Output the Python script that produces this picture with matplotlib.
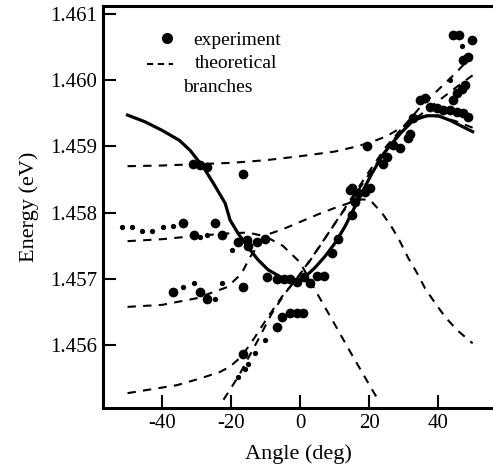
import matplotlib
matplotlib.use("Agg")
import matplotlib.pyplot as plt

plt.rcParams['font.family'] = ['Liberation Serif', 'DejaVu Serif']
plt.rcParams['axes.unicode_minus'] = False

# fitted experimental trend (solid line)
fit_angle = [-50, -45, -40, -35, -31.9, -28.1, -25.2, -21.7, -20.3, -18, -15.1, -12.2, -9.3, -5.3, -1.4,
             1.4, 4.3, 7.2, 10.1, 13, 15.9, 18.8, 20.8, 24.2, 29, 32.8, 36.7, 40, 43.5, 47.3, 50]
fit_energy = [1.45947, 1.45937, 1.45924, 1.45909, 1.45894, 1.45869, 1.45845, 1.45814, 1.45789, 1.45769,
              1.45748, 1.45729, 1.45714, 1.45702, 1.45696, 1.45703, 1.45717, 1.45734, 1.45754, 1.45779,
              1.45809, 1.45839, 1.45859, 1.45889, 1.45919, 1.45939, 1.45946, 1.45946, 1.45939, 1.45929,
              1.45922]

# theoretical branches (dashed)
a_angle = [-50, -40, -30, -20, -10, 0, 10, 15, 20, 25, 30, 35, 40, 45, 50]
a_energy = [1.45870, 1.45871, 1.45873, 1.45875, 1.45879, 1.45885, 1.45892, 1.45898, 1.45905, 1.45915,
            1.45930, 1.45948, 1.45968, 1.45988, 1.46007]

b_angle = [-50, -40, -30, -20, -15, -10, -5, 0, 4.3, 10, 15, 20.9, 22.5]
b_energy = [1.45757, 1.45760, 1.45765, 1.45769, 1.45770, 1.45764, 1.45750, 1.45725, 1.45684, 1.45632,
            1.45586, 1.45533, 1.45519]

c_angle = [-50, -40, -30, -21, -17, -14.5, -12, -10, -5, 0, 5, 10, 14.5, 18, 20.3, 23.8, 26.7, 29,
           31.3, 33.9, 36.2, 39.1, 42, 45.5, 50]
c_energy = [1.45658, 1.45661, 1.45671, 1.45688, 1.45708, 1.45733, 1.45752, 1.45766, 1.45775, 1.45786,
            1.45797, 1.45807, 1.45815, 1.45820, 1.45819, 1.45799, 1.45777, 1.45756, 1.45732, 1.45709,
            1.45686, 1.45664, 1.45643, 1.45623, 1.45603]

d_angle = [-50, -35.7, -29, -23.2, -20.3, -17, -13, -9.3, -5.3, -1.4, 2.4, 6.3, 10.1, 13.9, 20, 25, 30,
           35, 40, 45, 50]
d_energy = [1.45528, 1.45540, 1.45550, 1.45560, 1.45568, 1.45583, 1.45613, 1.45643, 1.45673, 1.45698,
            1.45724, 1.45754, 1.45784, 1.45814, 1.45862, 1.45900, 1.45930, 1.45945, 1.45945, 1.45938,
            1.45928]

e_angle = [-22.2, -17.9, -12.2, -8.2, -4.3, -0.6, 4.3, 8.2, 12.1, 15, 20, 25, 30, 35, 40, 45, 50]
e_energy = [1.45518, 1.45553, 1.45608, 1.45648, 1.45679, 1.45703, 1.45739, 1.45769, 1.45799, 1.45819,
            1.45858, 1.45895, 1.45930, 1.45960, 1.45985, 1.46010, 1.46037]

# experiment: strong peaks
big_angle = [-33.8, -24.8, -30.6, -22.7, -36.9, -29.0, -26.9, -30.9, -29.0, -27.0, -16.4, -17.9, -15.4,
             -15.0, -12.6, -10.1, -9.7, -6.8, -4.8, -2.9, -1.0, 1.0, 2.9, 4.8, 6.8, -16.4, 9.2, 11.1,
             15.0, 15.0, 16.9, 18.8, 20.3, 0.8, -1.0, -2.9, -5.3, -6.8, -16.4, 19.3, 34.8, 36.2, 37.7,
             39.6, 41.5, 43.5, 45.4, 47.3, 48.8, 32.8, 31.9, 31.4, 29.0, 27.0, 25.1, 24.1, 44.3, 46.1,
             49.8, 47.2, 48.7, 46.9, 47.8, 45.4, 44.4, 15.9, 14.5]
big_energy = [1.45784, 1.45784, 1.45766, 1.45766, 1.45681, 1.45681, 1.45670, 1.45874, 1.45872, 1.45869,
              1.45858, 1.45756, 1.45759, 1.45749, 1.45756, 1.45761, 1.45703, 1.45700, 1.45700, 1.45700,
              1.45696, 1.45703, 1.45694, 1.45705, 1.45705, 1.45688, 1.45739, 1.45761, 1.45796, 1.45837,
              1.45829, 1.45831, 1.45837, 1.45649, 1.45649, 1.45649, 1.45642, 1.45628, 1.45587, 1.45900,
              1.45970, 1.45973, 1.45959, 1.45957, 1.45955, 1.45955, 1.45952, 1.45950, 1.45944, 1.45942,
              1.45919, 1.45912, 1.45897, 1.45902, 1.45884, 1.45874, 1.46067, 1.46067, 1.46060, 1.46030,
              1.46034, 1.45987, 1.45992, 1.45980, 1.45970, 1.45816, 1.45834]

# experiment: weak peaks
small_angle = [-51.7, -48.8, -45.9, -42.8, -39.8, -36.7, -29.0, -27.0, -33.8, -30.7, -24.6, -22.7, -19.8,
               -10.1, -13.0, -15.0, -15.9, -17.9, 43.5, 46.9]
small_energy = [1.45779, 1.45779, 1.45772, 1.45772, 1.45779, 1.45780, 1.45764, 1.45766, 1.45688, 1.45694,
                1.45670, 1.45694, 1.45744, 1.45608, 1.45588, 1.45572, 1.45564, 1.45552, 1.46000, 1.46051]

branches = [(a_angle, a_energy), (b_angle, b_energy), (c_angle, c_energy),
            (d_angle, d_energy), (e_angle, e_energy)]

fig = plt.figure(figsize=(4.93, 4.76), dpi=100)
ax = fig.add_axes([0.209, 0.143, 0.791, 0.844])

for xs, ys in branches:
    ax.plot(xs, ys, color='black', lw=1.5, dashes=(4, 3.5))
ax.plot(fit_angle, fit_energy, color='black', lw=2.3)
ax.plot(big_angle, big_energy, 'o', color='black', ms=7, mec='none')
ax.plot(small_angle, small_energy, 'o', color='black', ms=3.8, mec='none')

ax.set_xlim(-57.1, 55.9)
ax.set_ylim(1.455057, 1.461111)
ax.set_xticks([-40, -20, 0, 20, 40])
ax.set_yticks([1.456, 1.457, 1.458, 1.459, 1.460, 1.461])
ax.set_yticklabels(['1.456', '1.457', '1.458', '1.459', '1.460', '1.461'])
ax.tick_params(direction='in', length=9.4, width=1.5, labelsize=15, pad=4.5)
ax.tick_params(axis='y', pad=4)
ax.spines['right'].set_visible(False)
for s in ['left', 'bottom', 'top']:
    ax.spines[s].set_linewidth(2.2)

ax.set_xlabel('Angle (deg)', fontsize=16, labelpad=8)
ax.set_ylabel('Energy (eV)', fontsize=16, labelpad=8)

# legend drawn by hand
ax.plot([0.163], [0.920], 'o', color='black', ms=8, mec='none', transform=ax.transAxes, clip_on=False)
ax.text(0.231, 0.903, 'experiment', fontsize=14, transform=ax.transAxes, va='baseline')
ax.plot([0.112, 0.179], [0.857, 0.857], color='black', lw=1.5, dashes=(3, 2.2), transform=ax.transAxes)
ax.text(0.236, 0.845, 'theoretical', fontsize=14, transform=ax.transAxes, va='baseline')
ax.text(0.206, 0.787, 'branches', fontsize=14, transform=ax.transAxes, va='baseline')

fig.savefig('out.png', dpi=100)
